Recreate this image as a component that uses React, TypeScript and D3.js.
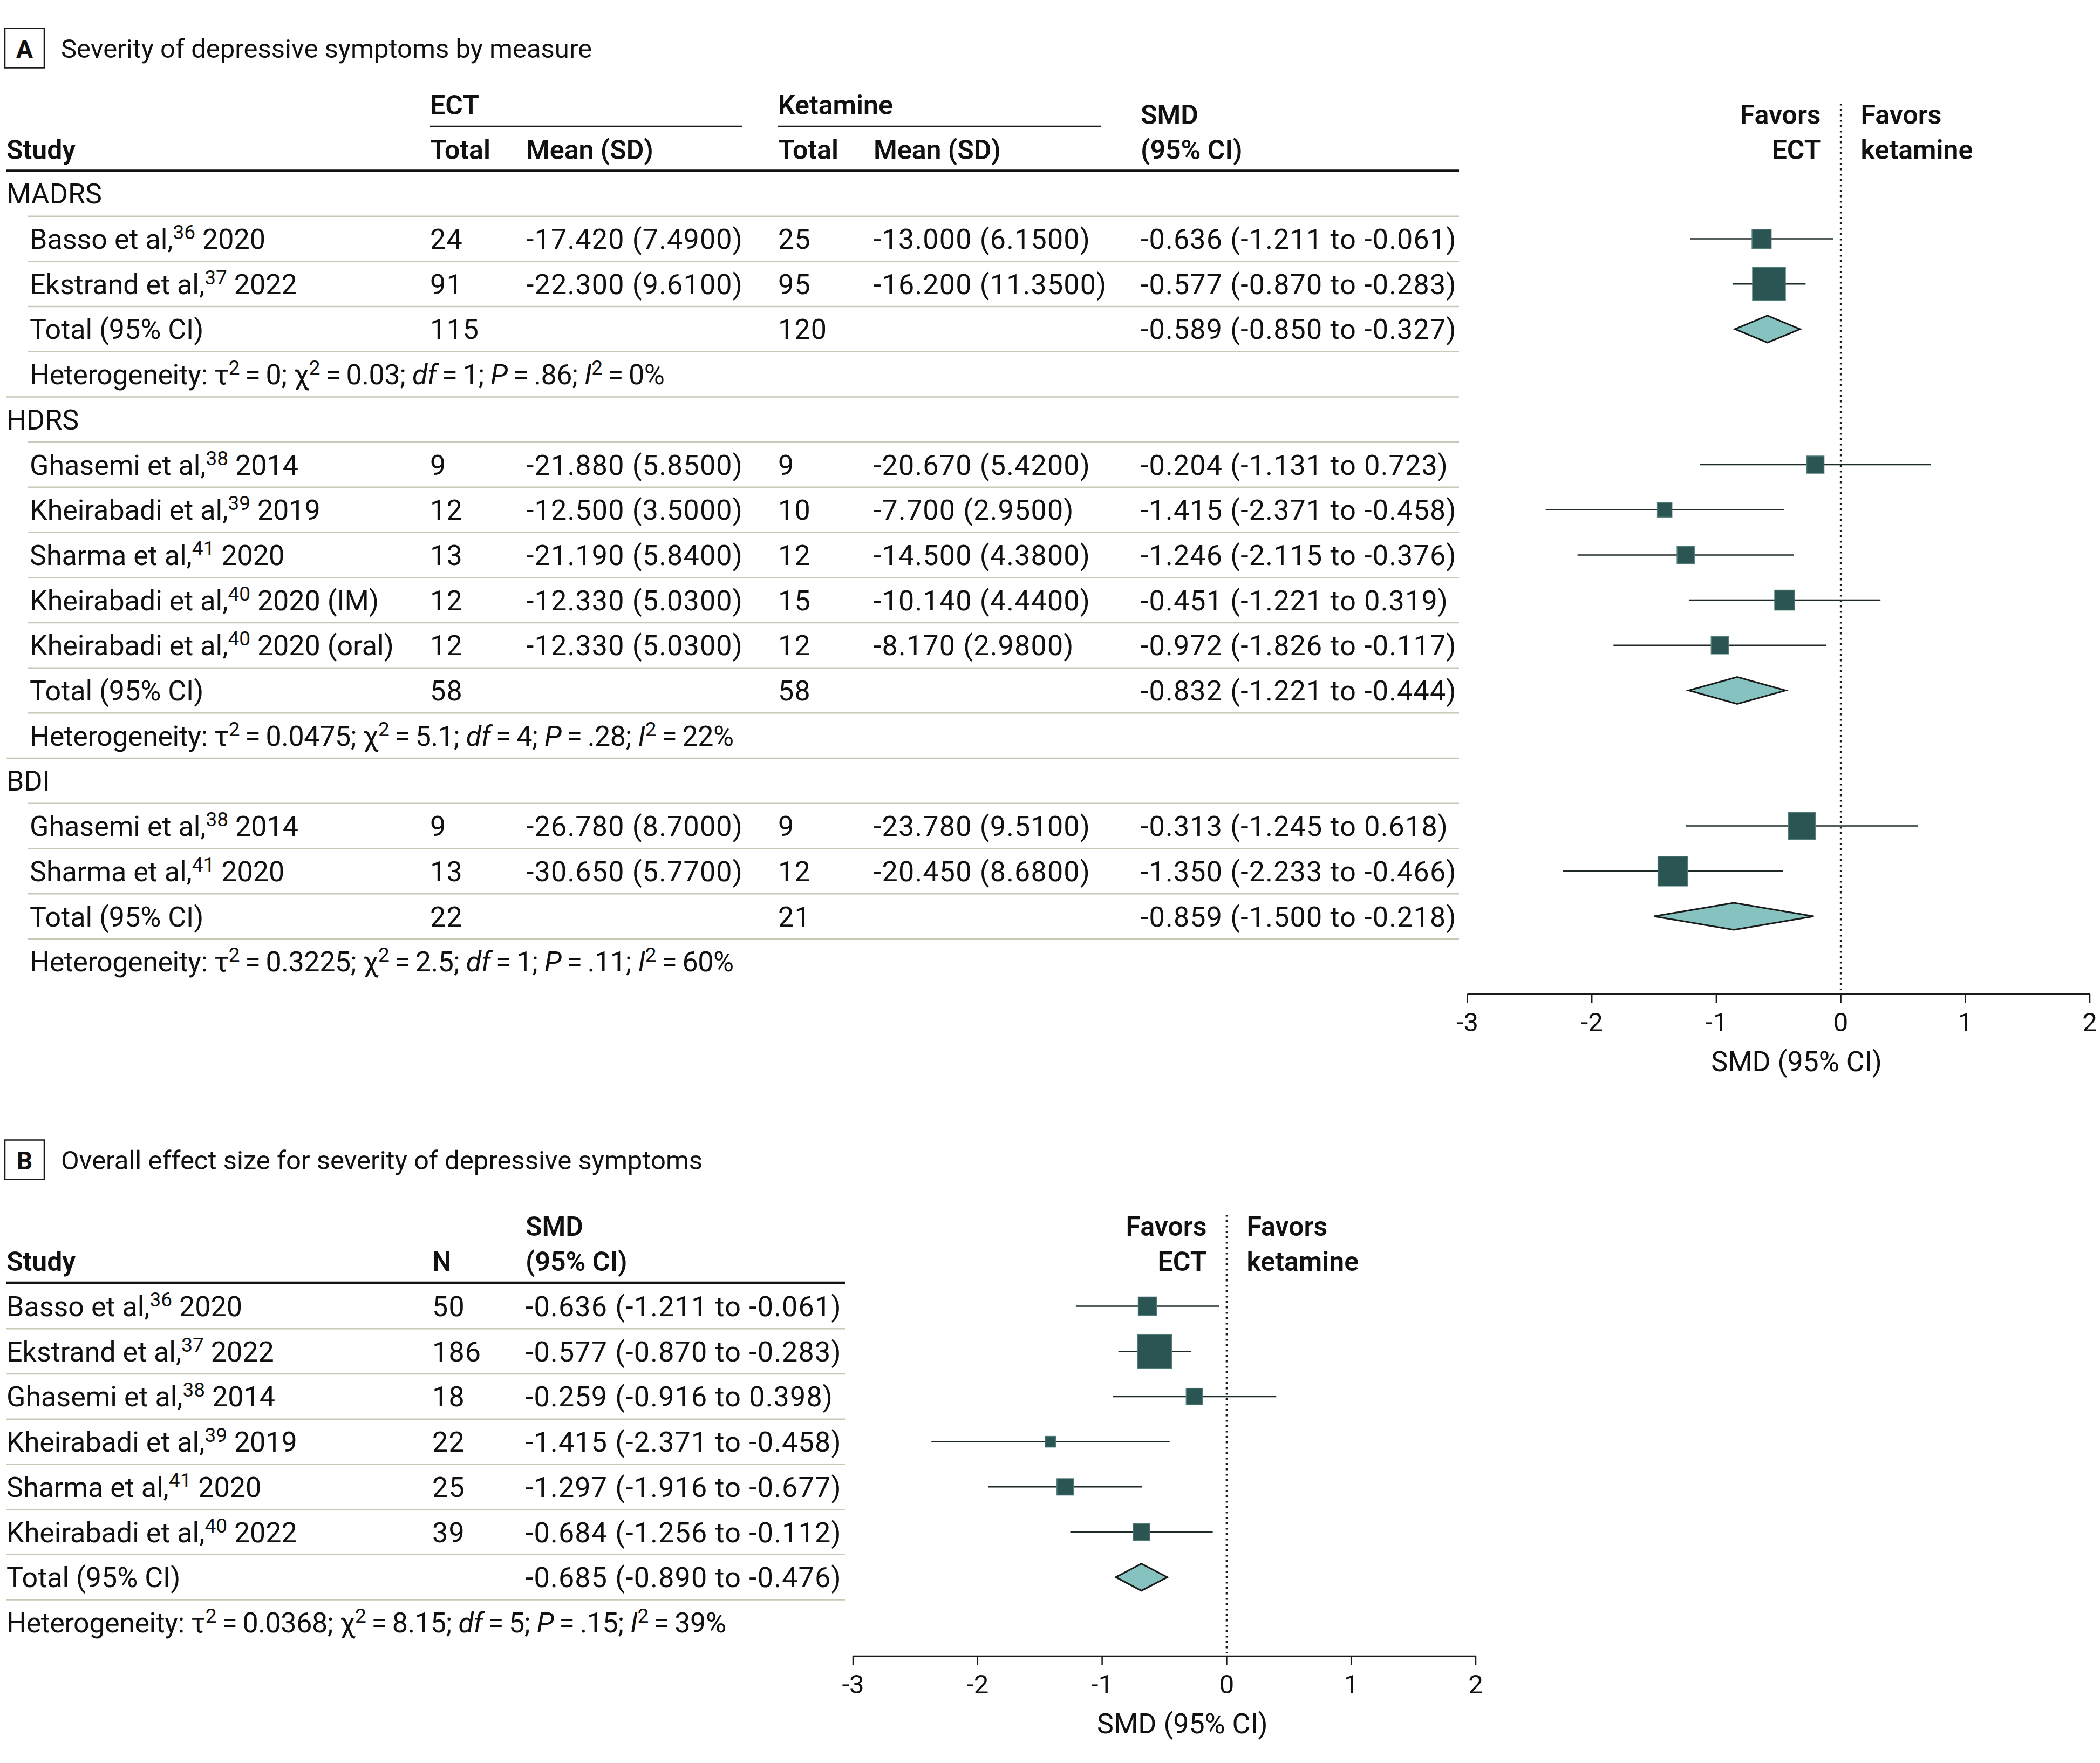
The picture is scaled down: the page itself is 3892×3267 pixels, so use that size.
import React from "react";
import * as d3 from "d3";

// ---------------- Panel A data ----------------
const groupNamesA = ["MADRS", "HDRS", "BDI"];
const authorA = ["Basso et al,", "Ekstrand et al,", "Ghasemi et al,", "Kheirabadi et al,", "Sharma et al,", "Kheirabadi et al,", "Kheirabadi et al,", "Ghasemi et al,", "Sharma et al,"];
const refA = ["36", "37", "38", "39", "41", "40", "40", "38", "41"];
const yearA = ["2020", "2022", "2014", "2019", "2020", "2020 (IM)", "2020 (oral)", "2014", "2020"];
const groupOfA = [0, 0, 1, 1, 1, 1, 1, 2, 2];
const ectTotalA = [24, 91, 9, 12, 13, 12, 12, 9, 13];
const ectMeanA = [-17.42, -22.3, -21.88, -12.5, -21.19, -12.33, -12.33, -26.78, -30.65];
const ectSdA = [7.49, 9.61, 5.85, 3.5, 5.84, 5.03, 5.03, 8.7, 5.77];
const ketTotalA = [25, 95, 9, 10, 12, 15, 12, 9, 12];
const ketMeanA = [-13.0, -16.2, -20.67, -7.7, -14.5, -10.14, -8.17, -23.78, -20.45];
const ketSdA = [6.15, 11.35, 5.42, 2.95, 4.38, 4.44, 2.98, 9.51, 8.68];
const smdA = [-0.636, -0.577, -0.204, -1.415, -1.246, -0.451, -0.972, -0.313, -1.35];
const loA = [-1.211, -0.87, -1.131, -2.371, -2.115, -1.221, -1.826, -1.245, -2.233];
const hiA = [-0.061, -0.283, 0.723, -0.458, -0.376, 0.319, -0.117, 0.618, -0.466];
const weightA = [19.7, 58.1, 16, 11.4, 16, 21.4, 16, 39, 47.3];

const totEctA = [115, 58, 22];
const totKetA = [120, 58, 21];
const totSmdA = [-0.589, -0.832, -0.859];
const totLoA = [-0.85, -1.221, -1.5];
const totHiA = [-0.327, -0.444, -0.218];
const hetTauA = ["0", "0.0475", "0.3225"];
const hetChiA = ["0.03", "5.1", "2.5"];
const hetDfA = ["1", "4", "1"];
const hetPA = [".86", ".28", ".11"];
const hetI2A = ["0", "22", "60"];

// ---------------- Panel B data ----------------
const authorB = ["Basso et al,", "Ekstrand et al,", "Ghasemi et al,", "Kheirabadi et al,", "Sharma et al,", "Kheirabadi et al,"];
const refB = ["36", "37", "38", "39", "41", "40"];
const yearB = ["2020", "2022", "2014", "2019", "2020", "2022"];
const nB = [50, 186, 18, 22, 25, 39];
const smdB = [-0.636, -0.577, -0.259, -1.415, -1.297, -0.684];
const loB = [-1.211, -0.87, -0.916, -2.371, -1.916, -1.256];
const hiB = [-0.061, -0.283, 0.398, -0.458, -0.677, -0.112];
const weightB = [18.1, 62, 14.5, 6.25, 14.5, 15.3];
const totSmdB = -0.685;
const totLoB = -0.89;
const totHiB = -0.476;
const hetB = { tau: "0.0368", chi: "8.15", df: "5", p: ".15", i2: "39" };

const axisTicks = [-3, -2, -1, 0, 1, 2];

// ---------------- formatting ----------------
const loc = d3.formatLocale({ decimal: ".", thousands: ",", grouping: [3], currency: ["", ""], minus: "-" });
const f3 = loc.format(".3f");
const f4 = loc.format(".4f");
const fd = loc.format("d");
const ci = (m: number, l: number, h: number) => `${f3(m)} (${f3(l)} to ${f3(h)})`;
const meanSd = (m: number, s: number) => `${f3(m)} (${f4(s)})`;

// ---------------- style ----------------
const W = 3892;
const H = 3267;
const FONT = "Roboto, 'Noto Sans', 'DejaVu Sans', sans-serif";
const FS = 52;
const HFS = 50;
const SUPFS = 37;
const SUP = 18;
const BASE = 18.5; // baseline offset from row center
const NUM_LS = 1.2; // letter spacing for numeric columns
const PITCH = 83.7;
const TXT = "#111";
const SEP = "#c6cab6";
const SQ = "#2b5553";
const SQ_STROKE = "#4f7b79";
const DIA = "#86c3c0";
const CI = "#1e2a2a";

const sizeScale = d3.scaleSqrt().domain([0, 100]).range([0, 80]);

function StudyLabel({ x, y, author, refNo, year }: any) {
  return (
    <text x={x} y={y} fontSize={FS} fill={TXT}>
      {author}
      <tspan dy={-SUP} fontSize={SUPFS}>{refNo}</tspan>
      <tspan dy={SUP}>{"\u00a0" + year}</tspan>
    </text>
  );
}

function HetLabel({ x, y, tau, chi, df, p, i2 }: any) {
  const eq = "\u2009=\u2009";
  return (
    <text x={x} y={y} fontSize={FS} fill={TXT} letterSpacing={-0.45}>
      {"Heterogeneity: \u03c4"}
      <tspan dy={-SUP} fontSize={SUPFS}>2</tspan>
      <tspan dy={SUP}>{`${eq}${tau}; \u03c7`}</tspan>
      <tspan dy={-SUP} fontSize={SUPFS}>2</tspan>
      <tspan dy={SUP}>{`${eq}${chi}; `}</tspan>
      <tspan fontStyle="italic">df</tspan>
      <tspan>{`${eq}${df}; `}</tspan>
      <tspan fontStyle="italic">P</tspan>
      <tspan>{`${eq}${p}; `}</tspan>
      <tspan fontStyle="italic">I</tspan>
      <tspan dy={-SUP} fontSize={SUPFS}>2</tspan>
      <tspan dy={SUP}>{`${eq}${i2}%`}</tspan>
    </text>
  );
}

function Num({ x, y, children }: any) {
  return (
    <text x={x} y={y} fontSize={FS} fill={TXT} letterSpacing={NUM_LS}>
      {children}
    </text>
  );
}

function Study({ x, y, m, l, h, w }: any) {
  const s = sizeScale(w);
  return (
    <g>
      <line x1={x(l)} x2={x(h)} y1={y} y2={y} stroke={CI} strokeWidth={2.5} />
      <rect x={x(m) - s / 2} y={y - s / 2} width={s} height={s} fill={SQ} stroke={SQ_STROKE} strokeWidth={1.5} />
    </g>
  );
}

function Diamond({ x, y, m, l, h }: any) {
  const hh = 25;
  const pts = [[x(l), y], [x(m), y - hh], [x(h), y], [x(m), y + hh]].map((p) => p.join(",")).join(" ");
  return <polygon points={pts} fill={DIA} stroke="#1a1a1a" strokeWidth={3} strokeLinejoin="miter" />;
}

function Axis({ x, y, labelY }: any) {
  const [r0, r1] = x.range();
  return (
    <g>
      <line x1={r0} x2={r1} y1={y} y2={y} stroke="#1a1a1a" strokeWidth={2.5} />
      {axisTicks.map((t) => (
        <g key={t}>
          <line x1={x(t)} x2={x(t)} y1={y} y2={y + 17} stroke="#1a1a1a" strokeWidth={2.5} />
          <text x={x(t)} y={y + 69} fontSize={49} textAnchor="middle" fill={TXT}>{fd(t)}</text>
        </g>
      ))}
      <text x={x(0) - 82} y={labelY} fontSize={FS} textAnchor="middle" fill={TXT}>SMD (95% CI)</text>
    </g>
  );
}

function Favors({ x, y1, y2, top, bottom }: any) {
  const x0 = x(0);
  return (
    <g fontWeight={600} fontSize={HFS} fill={TXT}>
      <line x1={x0} x2={x0} y1={top} y2={bottom} stroke="#1a1a1a" strokeWidth={3.5} strokeDasharray="3.5 6.5" />
      <text x={x0 - 37} y={y1} textAnchor="end">Favors</text>
      <text x={x0 - 37} y={y2} textAnchor="end">ECT</text>
      <text x={x0 + 37} y={y1}>Favors</text>
      <text x={x0 + 37} y={y2}>ketamine</text>
    </g>
  );
}

function PanelTitle({ y, letter, title }: any) {
  return (
    <g>
      <rect x={9} y={y} width={73} height={73} fill="none" stroke="#1a1a1a" strokeWidth={2.5} />
      <text x={45.5} y={y + 54} fontSize={46} fontWeight={700} textAnchor="middle" fill={TXT}>{letter}</text>
      <text x={113} y={y + 54} fontSize={49} fill={TXT}>{title}</text>
    </g>
  );
}

export default function App() {
  // ---------- Panel A ----------
  const xA = d3.scaleLinear().domain([-3, 2]).range([2719.5, 3873]);
  const topA = 358.8;
  const rowYA = (k: number) => topA + k * PITCH;
  type Row = { kind: string; g: number; i?: number };
  const rowsA: Row[] = [];
  groupNamesA.forEach((_, g) => {
    rowsA.push({ kind: "group", g });
    groupOfA.forEach((sg, i) => {
      if (sg === g) rowsA.push({ kind: "study", g, i });
    });
    rowsA.push({ kind: "total", g });
    rowsA.push({ kind: "het", g });
  });
  const colA = { study: 12, indent: 55, ectN: 797, ectM: 975, ketN: 1442, ketM: 1619, smd: 2114, end: 2704 };

  // ---------- Panel B ----------
  const xB = d3.scaleLinear().domain([-3, 2]).range([1581, 2735]);
  const topB = 2420.5;
  const rowYB = (k: number) => topB + k * PITCH;
  const colB = { study: 12, n: 801, smd: 974, end: 1566 };

  return (
    <svg width={W} height={H} viewBox={`0 0 ${W} ${H}`} style={{ position: "absolute", left: 0, top: 0, display: "block" }} fontFamily={FONT}>
      <rect width={W} height={H} fill="#fff" />

      {/* ================= Panel A ================= */}
      <PanelTitle y={52.5} letter="A" title="Severity of depressive symptoms by measure" />
      <g fontWeight={600} fontSize={HFS} fill={TXT}>
        <text x={colA.ectN} y={212}>ECT</text>
        <text x={colA.ketN} y={212}>Ketamine</text>
        <text x={colA.smd} y={230}>SMD</text>
        <text x={colA.study} y={295}>Study</text>
        <text x={colA.ectN} y={295}>Total</text>
        <text x={colA.ectM} y={295}>Mean (SD)</text>
        <text x={colA.ketN} y={295}>Total</text>
        <text x={colA.ketM} y={295}>Mean (SD)</text>
        <text x={colA.smd} y={295}>(95% CI)</text>
      </g>
      <line x1={colA.ectN} x2={1375} y1={234} y2={234} stroke="#1a1a1a" strokeWidth={2.5} />
      <line x1={colA.ketN} x2={2040} y1={234} y2={234} stroke="#1a1a1a" strokeWidth={2.5} />
      <line x1={colA.study} x2={colA.end} y1={316.5} y2={316.5} stroke="#111" strokeWidth={4.5} />

      {rowsA.map((r, k) => {
        if (k === rowsA.length - 1) return null;
        const y = rowYA(k) + PITCH / 2;
        const x1 = r.kind === "het" ? colA.study : 51;
        return <line key={"sa" + k} x1={x1} x2={colA.end} y1={y} y2={y} stroke={SEP} strokeWidth={2.5} />;
      })}

      <Favors x={xA} y1={230} y2={295} top={192} bottom={1834} />

      {rowsA.map((r, k) => {
        const cy = rowYA(k);
        const by = cy + BASE;
        if (r.kind === "group") {
          return <text key={"ra" + k} x={colA.study} y={by} fontSize={FS} fill={TXT}>{groupNamesA[r.g]}</text>;
        }
        if (r.kind === "study") {
          const i = r.i as number;
          return (
            <g key={"ra" + k}>
              <StudyLabel x={colA.indent} y={by} author={authorA[i]} refNo={refA[i]} year={yearA[i]} />
              <Num x={colA.ectN} y={by}>{fd(ectTotalA[i])}</Num>
              <Num x={colA.ectM} y={by}>{meanSd(ectMeanA[i], ectSdA[i])}</Num>
              <Num x={colA.ketN} y={by}>{fd(ketTotalA[i])}</Num>
              <Num x={colA.ketM} y={by}>{meanSd(ketMeanA[i], ketSdA[i])}</Num>
              <Num x={colA.smd} y={by}>{ci(smdA[i], loA[i], hiA[i])}</Num>
              <Study x={xA} y={cy} m={smdA[i]} l={loA[i]} h={hiA[i]} w={weightA[i]} />
            </g>
          );
        }
        if (r.kind === "total") {
          const g = r.g;
          return (
            <g key={"ra" + k}>
              <text x={colA.indent} y={by} fontSize={FS} fill={TXT}>Total (95% CI)</text>
              <Num x={colA.ectN} y={by}>{fd(totEctA[g])}</Num>
              <Num x={colA.ketN} y={by}>{fd(totKetA[g])}</Num>
              <Num x={colA.smd} y={by}>{ci(totSmdA[g], totLoA[g], totHiA[g])}</Num>
              <Diamond x={xA} y={cy} m={totSmdA[g]} l={totLoA[g]} h={totHiA[g]} />
            </g>
          );
        }
        const g = r.g;
        return <HetLabel key={"ra" + k} x={colA.indent} y={by} tau={hetTauA[g]} chi={hetChiA[g]} df={hetDfA[g]} p={hetPA[g]} i2={hetI2A[g]} />;
      })}

      <Axis x={xA} y={1842} labelY={1985} />

      {/* ================= Panel B ================= */}
      <PanelTitle y={2112.5} letter="B" title="Overall effect size for severity of depressive symptoms" />
      <g fontWeight={600} fontSize={HFS} fill={TXT}>
        <text x={colB.smd} y={2290}>SMD</text>
        <text x={colB.study} y={2355}>Study</text>
        <text x={colB.n} y={2355}>N</text>
        <text x={colB.smd} y={2355}>(95% CI)</text>
      </g>
      <line x1={colB.study} x2={colB.end} y1={2377} y2={2377} stroke="#111" strokeWidth={4.5} />
      {d3.range(authorB.length + 1).map((k) => {
        const y = rowYB(k) + PITCH / 2;
        return <line key={"sb" + k} x1={colB.study} x2={colB.end} y1={y} y2={y} stroke={SEP} strokeWidth={2.5} />;
      })}

      <Favors x={xB} y1={2290} y2={2355} top={2251} bottom={3064} />

      {authorB.map((a, i) => {
        const cy = rowYB(i);
        const by = cy + BASE;
        return (
          <g key={"rb" + i}>
            <StudyLabel x={colB.study} y={by} author={a} refNo={refB[i]} year={yearB[i]} />
            <Num x={colB.n} y={by}>{fd(nB[i])}</Num>
            <Num x={colB.smd} y={by}>{ci(smdB[i], loB[i], hiB[i])}</Num>
            <Study x={xB} y={cy} m={smdB[i]} l={loB[i]} h={hiB[i]} w={weightB[i]} />
          </g>
        );
      })}
      <g>
        <text x={colB.study} y={rowYB(6) + BASE} fontSize={FS} fill={TXT}>Total (95% CI)</text>
        <Num x={colB.smd} y={rowYB(6) + BASE}>{ci(totSmdB, totLoB, totHiB)}</Num>
        <Diamond x={xB} y={rowYB(6)} m={totSmdB} l={totLoB} h={totHiB} />
      </g>
      <HetLabel x={colB.study} y={rowYB(7) + BASE} tau={hetB.tau} chi={hetB.chi} df={hetB.df} p={hetB.p} i2={hetB.i2} />

      <Axis x={xB} y={3069} labelY={3212} />
    </svg>
  );
}
